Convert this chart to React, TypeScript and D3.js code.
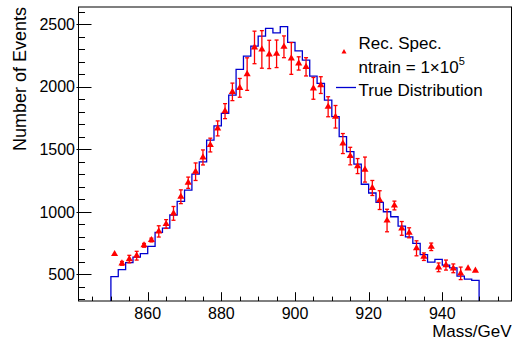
import React, { useEffect, useRef, FC } from "react";
import * as d3 from "d3";

// bin centres (GeV), bin width 2
const massBins = [
  851, 853, 855, 857, 859, 861, 863, 865, 867, 869, 871, 873, 875, 877, 879, 881, 883, 885, 887, 889,
  891, 893, 895, 897, 899, 901, 903, 905, 907, 909, 911, 913, 915, 917, 919, 921, 923, 925, 927, 929,
  931, 933, 935, 937, 939, 941, 943, 945, 947, 949,
];
// blue histogram
const trueDist = [
  481, 537, 593, 638, 665, 724, 835, 870, 974, 1083, 1173, 1301, 1399, 1573, 1687, 1786, 1932, 2137, 2244, 2323,
  2403, 2465, 2430, 2480, 2353, 2286, 2212, 2084, 2025, 1892, 1760, 1600, 1480, 1380, 1220, 1150, 1075, 1000, 960, 886,
  800, 748, 658, 597, 620, 574, 552, 486, 461, 451,
];
// red triangles
const recSpec = [
  662, 588, 622, 649, 732, 774, 843, 902, 987, 1120, 1232, 1320, 1434, 1533, 1666, 1804, 1958, 1990, 2100, 2313,
  2297, 2257, 2262, 2318, 2225, 2185, 2158, 1986, 2012, 1839, 1759, 1545, 1445, 1365, 1337, 1190, 1093, 930, 1050, 867,
  832, 708, 641, 720, 556, 574, 548, 508, 548, 529,
];
const recErr = [
  0, 15, 30, 35, 15, 15, 45, 35, 55, 55, 45, 70, 60, 55, 60, 60, 70, 75, 130, 130,
  150, 113, 110, 87, 127, 53, 73, 87, 67, 80, 90, 80, 70, 60, 100, 60, 75, 90, 35, 55,
  40, 60, 30, 30, 35, 40, 35, 50, 0, 0,
];
const xTickLabels = [860, 880, 900, 920, 940];
const yTickLabels = [500, 1000, 1500, 2000, 2500];
const legendLabels = ["Rec. Spec.", "ntrain = 1\u00d710", "True Distribution"];

const W = 514;
const H = 345;
const margin = { left: 78.5, right: 2.5, top: 7, bottom: 44 };
const font = "'Liberation Sans', Arial, Helvetica, sans-serif";
const RED = "#ff0000";
const BLUE = "#0000d0";

const MassPlot: FC = () => {
  const ref = useRef<SVGSVGElement>(null);

  useEffect(() => {
    const svg = d3.select(ref.current);
    svg.selectAll("*").remove();

    const x = d3.scaleLinear().domain([841.2, 958.8]).range([margin.left, W - margin.right]);
    const y = d3.scaleLinear().domain([287, 2636]).range([H - margin.bottom, margin.top]);
    const y0 = y.domain()[0];

    svg.append("rect").attr("width", W).attr("height", H).attr("fill", "#fff");

    // histogram outline
    const pts: [number, number][] = [[massBins[0] - 1, y0]];
    massBins.forEach((m, i) => {
      pts.push([m - 1, trueDist[i]]);
      pts.push([m + 1, trueDist[i]]);
    });
    pts.push([massBins[massBins.length - 1] + 1, y0]);
    const line = d3
      .line<[number, number]>()
      .x((d) => x(d[0]))
      .y((d) => y(d[1]));
    svg
      .append("path")
      .attr("d", line(pts))
      .attr("fill", "none")
      .attr("stroke", BLUE)
      .attr("stroke-width", 1.3);

    // error bars
    const eb = svg.append("g").attr("stroke", RED).attr("stroke-width", 1.3);
    massBins.forEach((m, i) => {
      if (!recErr[i]) return;
      const cx = x(m);
      const lo = y(recSpec[i] - recErr[i]);
      const hi = y(recSpec[i] + recErr[i]);
      eb.append("line").attr("x1", cx).attr("x2", cx).attr("y1", lo).attr("y2", hi);
      eb.append("line").attr("x1", cx - 2).attr("x2", cx + 2).attr("y1", lo).attr("y2", lo);
      eb.append("line").attr("x1", cx - 2).attr("x2", cx + 2).attr("y1", hi).attr("y2", hi);
    });

    // markers
    const tri = d3.symbol().type(d3.symbolTriangle).size(22);
    svg
      .append("g")
      .selectAll("path")
      .data(massBins)
      .enter()
      .append("path")
      .attr("d", tri as any)
      .attr("transform", (m, i) => `translate(${x(m)},${y(recSpec[i])})`)
      .attr("fill", RED);

    // frame
    const fx0 = margin.left;
    const fx1 = W - margin.right;
    const fy0 = margin.top;
    const fy1 = H - margin.bottom;
    svg
      .append("rect")
      .attr("x", fx0)
      .attr("y", fy0)
      .attr("width", fx1 - fx0)
      .attr("height", fy1 - fy0)
      .attr("fill", "none")
      .attr("stroke", "#000")
      .attr("stroke-width", 1);

    const ax = svg.append("g").attr("stroke", "#000").attr("stroke-width", 1);
    // y ticks
    d3.range(300, 2700, 100).forEach((v) => {
      const major = v % 500 === 0;
      const yy = Math.round(y(v)) + 0.5;
      ax.append("line")
        .attr("x1", major ? fx0 - 2 : fx0)
        .attr("x2", fx0 + (major ? 13 : 6.5))
        .attr("y1", yy)
        .attr("y2", yy);
    });
    // x ticks
    d3.range(845, 960, 5).forEach((v) => {
      const major = v % 20 === 0;
      const xx = Math.round(x(v)) + 0.5;
      ax.append("line")
        .attr("x1", xx)
        .attr("x2", xx)
        .attr("y1", fy1)
        .attr("y2", fy1 - (major ? 8.8 : 4.4));
    });

    svg
      .append("g")
      .selectAll("text")
      .data(yTickLabels)
      .enter()
      .append("text")
      .attr("x", fx0 - 3.5)
      .attr("y", (d) => y(d))
      .attr("dy", "0.36em")
      .attr("text-anchor", "end")
      .attr("font-family", font)
      .attr("font-size", 16)
      .text((d) => d);

    svg
      .append("g")
      .selectAll("text")
      .data(xTickLabels)
      .enter()
      .append("text")
      .attr("x", (d) => x(d))
      .attr("y", 318.5)
      .attr("text-anchor", "middle")
      .attr("font-family", font)
      .attr("font-size", 16)
      .text((d) => d);

    // axis titles
    svg
      .append("text")
      .attr("x", fx1)
      .attr("y", 336.5)
      .attr("text-anchor", "end")
      .attr("font-family", font)
      .attr("font-size", 17)
      .text("Mass/GeV");
    svg
      .append("text")
      .attr("transform", `translate(25.5,${fy0}) rotate(-90)`)
      .attr("text-anchor", "end")
      .attr("font-family", font)
      .attr("font-size", 18)
      .text("Number of Events");

    // legend
    const lg = svg.append("g").attr("font-family", font).attr("font-size", 17);
    lg.append("path")
      .attr("d", d3.symbol().type(d3.symbolTriangle).size(11)() as string)
      .attr("transform", "translate(344,52)")
      .attr("fill", RED);
    lg.append("line")
      .attr("x1", 336)
      .attr("x2", 356)
      .attr("y1", 87.5)
      .attr("y2", 87.5)
      .attr("stroke", BLUE)
      .attr("stroke-width", 1.3);
    lg.append("text").attr("x", 358.5).attr("y", 48.5).text(legendLabels[0]);
    const t2 = lg.append("text").attr("x", 358.5).attr("y", 72.5);
    t2.append("tspan").text(legendLabels[1]);
    t2.append("tspan").attr("font-size", 11).attr("dy", -8).text("5");
    lg.append("text").attr("x", 358.5).attr("y", 95.5).text(legendLabels[2]);
  }, []);

  return (
    <svg
      ref={ref}
      width={W}
      height={H}
      viewBox={`0 0 ${W} ${H}`}
      style={{ position: "absolute", left: 0, top: 0, display: "block" }}
    ></svg>
  );
};

export default function App() {
  return <MassPlot />;
}
